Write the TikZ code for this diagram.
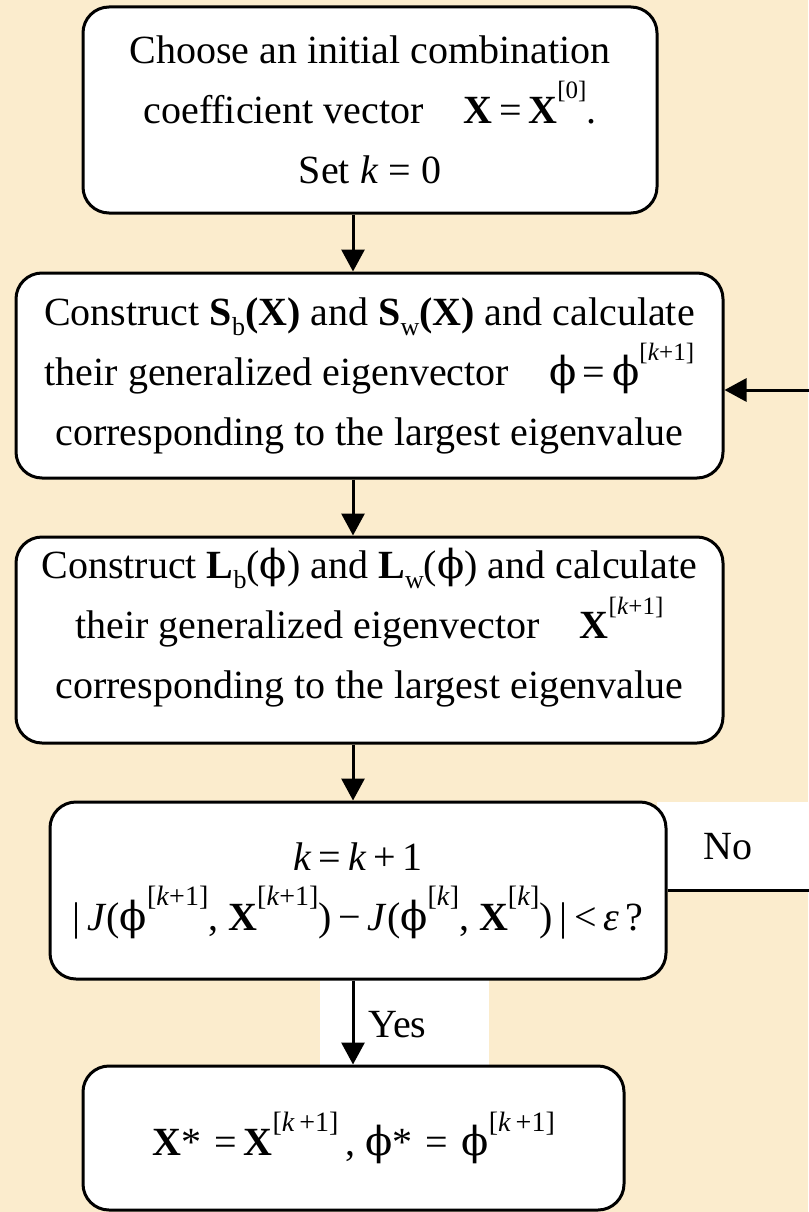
\documentclass[tikz,border=0pt]{standalone}
\usepackage{fontspec}
\setmainfont{Liberation Serif}
\newfontfamily\phfont{DejaVu Serif}
\usetikzlibrary{arrows.meta,calc}
\definecolor{parch}{RGB}{251,236,205}
\newcommand\bX{\textbf{X}}
\newcommand\ph{{\phfont ϕ}}
\newcommand\sx[1]{\raisebox{0.62em}{\fontsize{25}{25}\selectfont #1}}
\newcommand\sxb[1]{\raisebox{0.62em}{\fontsize{28}{28}\selectfont #1}}
\newcommand\sbx[1]{\raisebox{-0.25em}{\fontsize{26}{26}\selectfont #1}}
\newcommand\kk{\textit{k}}
\begin{document}
\begin{tikzpicture}[x=1pt,y=-1pt,
  every node/.style={font=\fontsize{40}{60}\selectfont},
  box/.style={draw, line width=3pt, fill=white, rounded corners=26pt, align=center, inner sep=0pt},
  txt/.style={align=center, inner sep=0pt},
  lbg/.style={fill=white, inner sep=0pt},
  arr/.style={line width=3pt, -{Triangle[length=22pt,width=23pt]}}]
\useasboundingbox (0,0) rectangle (808,1212);
\fill[parch] (0,0) rectangle (808,1212);
\coordinate (ax) at (353,0);
% label backgrounds
\node[lbg, minimum width=151pt, minimum height=87pt] (nobg) at (732.5,845.5) {};
\node[lbg, minimum width=169pt, minimum height=88pt] (yesbg) at (404.5,1023) {};
% boxes
\node[box, minimum width=574pt, minimum height=206pt] (b1) at (370,110)
 {Choose an initial combination\\coefficient vector\quad \bX\,=\,\bX\sx{[0]}.\\Set \kk\ = 0};
\node[box, minimum width=707pt, minimum height=205pt] (b2) at (369.5,375.5)
 {Construct \textbf{S}\sbx{b}\textbf{(X)} and \textbf{S}\sbx{w}\textbf{(X)} and calculate\\their generalized eigenvector\quad \ph\,=\,\ph\sx{[\kk+1]}\\corresponding to the largest eigenvalue};
\node[box, minimum width=707pt, minimum height=206pt] (b3) at (369.5,640) {};
\node[txt] (b3t) at ([yshift=12pt]b3.center)
 {Construct \textbf{L}\sbx{b}(\ph) and \textbf{L}\sbx{w}(\ph) and calculate\\their generalized eigenvector\quad \bX\sx{[\kk+1]}\\corresponding to the largest eigenvalue};
\node[box, minimum width=616pt, minimum height=177pt] (b4) at (358,890.5)
 {\kk\,=\,\kk\,+\,1\\|\,\textit{J}(\ph\sxb{[\kk+1]}, \bX\sxb{[\kk+1]})\,−\,\textit{J}(\ph\sxb{[\kk]}, \bX\sxb{[\kk]})\,|\,<\,\textit{ε}\,?};
\node[box, minimum width=541pt, minimum height=144pt] (b5) at (353.5,1138)
 {\bX*\,\,=\,\bX\sxb{[\kk\,+1]}\,, \ph*\,\,=\,\,\ph\sxb{[\kk\,+1]}};
% connectors
\coordinate (fbin) at ([yshift=-14.5pt]b2.east);
\draw[arr] (b1.south -| ax) -- (b2.north -| ax);
\draw[arr] (b2.south -| ax) -- (b3.north -| ax);
\draw[arr] (b3.south -| ax) -- (b4.north -| ax);
\draw[arr] (b4.south -| ax) -- (b5.north -| ax);
\draw[arr] (b4.east) -- ++(200,0) |- (fbin);
% labels
\node[inner sep=0pt] (no) at (728,847) {No};
\node[anchor=west, inner sep=0pt] (yes) at (368,1025) {Yes};
\end{tikzpicture}
\end{document}
